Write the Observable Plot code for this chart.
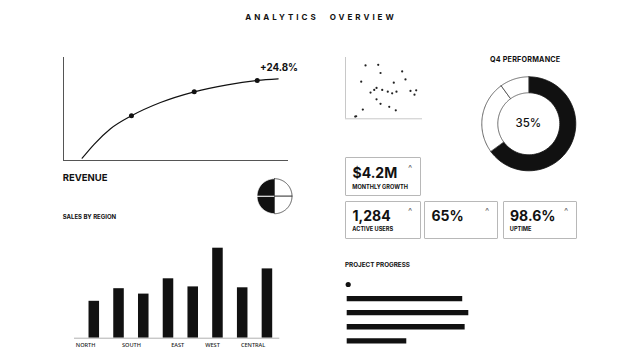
<!DOCTYPE html>
<html><head><meta charset="utf-8">
<script src="https://cdn.jsdelivr.net/npm/d3@7"></script>
<script src="https://cdn.jsdelivr.net/npm/@observablehq/plot@0.6"></script>
<style>
html,body{margin:0;padding:0;background:#fff;}
#wrap{position:relative;width:639px;height:360px;overflow:hidden;font-family:Inter,"Liberation Sans",sans-serif;color:#111;}
.t{position:absolute;white-space:nowrap;line-height:1;}
.card{position:absolute;border:1px solid #b8b8b8;border-radius:1px;box-sizing:border-box;}
</style></head>
<body><div id="wrap"></div>
<script>
// ---------- data ----------
const title = "ANALYTICS OVERVIEW";
const revenueLabel = "REVENUE";
const revenueChange = "+24.8%";
const revenueX = [8.3, 13.5, 20.9, 30.2, 43.1, 58.1, 72.8, 86.1, 95.4];
const revenueY = [2.2, 15.5, 30.8, 43.4, 56.3, 66.7, 73.5, 77.7, 79.3];
const revenueMarkIdx = [3, 5, 7];
const scatterX = [26,42.5,45.5,73.6,77.9,20.4,62.7,40.3,37.3,47.7,32.5,54.9,60.6,66.2,84.4,91.8,89.6,40.3,45.5,56.8,65.3,22.5,13.9,12.6];
const scatterY = [87,88,74.7,77.3,64.3,60.6,58.9,50.3,47.1,47.1,42.7,44.3,41.6,44.3,45.5,46.4,39.4,31.8,24.4,19.5,13.9,15.1,4.2,3.7];
const q4Title = "Q4 PERFORMANCE";
const q4Values = [65, 25, 10];
const q4Fills = ["#111", "#fff", "#fff"];
const q4Center = "35%";
const iconValues = [25, 25, 25, 25];
const iconFills = ["#fff", "#fff", "#111", "#111"];
const kpiValues = ["$4.2M", "1,284", "65%", "98.6%"];
const kpiLabels = ["MONTHLY GROWTH", "ACTIVE USERS", "", "UPTIME"];
const salesTitle = "SALES BY REGION";
const salesValues = [41, 55, 49, 66, 57, 100, 56, 77];
const regionLabels = ["NORTH", "SOUTH", "EAST", "WEST", "CENTRAL"];
const regionLabelPos = [0.15, 2.0, 3.87, 5.28, 6.92];
const progressTitle = "PROJECT PROGRESS";
const progressValues = [95, 100, 97, 49];

// ---------- helpers ----------
const W = 639, H = 360;
const wrap = document.getElementById("wrap");
function layer(opts) {
  const p = Plot.plot(Object.assign({width: W, height: H, style: {background: "transparent", overflow: "visible"}}, opts));
  p.style.position = "absolute"; p.style.left = "0px"; p.style.top = "0px";
  wrap.appendChild(p);
  return p;
}
function text(str, left, cy, size, weight, extra) {
  const d = document.createElement("div");
  d.className = "t";
  d.textContent = str;
  d.style.left = left + "px";
  d.style.top = (cy - size / 2) + "px";
  d.style.fontSize = size + "px";
  d.style.fontWeight = weight;
  if (extra) Object.assign(d.style, extra);
  wrap.appendChild(d);
  return d;
}
function box(l, t, w, h) {
  const d = document.createElement("div");
  d.className = "card";
  Object.assign(d.style, {left: l + "px", top: t + "px", width: w + "px", height: h + "px"});
  wrap.appendChild(d);
}
function slicePolys(values, rIn, rOut) {
  const arcs = d3.pie().sort(null)(values);
  return arcs.map(a => {
    const n = 60, pts = [];
    for (let k = 0; k <= n; k++) { const t = a.startAngle + (a.endAngle - a.startAngle) * k / n; pts.push([rOut * Math.sin(t), rOut * Math.cos(t)]); }
    if (rIn > 0) { for (let k = n; k >= 0; k--) { const t = a.startAngle + (a.endAngle - a.startAngle) * k / n; pts.push([rIn * Math.sin(t), rIn * Math.cos(t)]); } }
    else pts.push([0, 0]);
    pts.push(pts[0]);
    return pts;
  });
}

// ---------- title ----------
text(title, 0, 17.3, 8, 700, {width: W + "px", textAlign: "center", letterSpacing: "3px", wordSpacing: "6px", paddingLeft: "3px", boxSizing: "border-box"});

// ---------- revenue line ----------
const rev = revenueX.map((x, i) => ({x, y: revenueY[i]}));
layer({
  marginLeft: 63, marginRight: W - 288, marginTop: 57, marginBottom: H - 160,
  x: {domain: [0, 100], axis: null}, y: {domain: [0, 100], axis: null},
  marks: [
    Plot.ruleX([0], {stroke: "#555", strokeWidth: 1}),
    Plot.ruleY([0], {stroke: "#555", strokeWidth: 1}),
    Plot.line(rev, {x: "x", y: "y", curve: "monotone-x", stroke: "#111", strokeWidth: 1.2}),
    Plot.dot(revenueMarkIdx.map(i => rev[i]), {x: "x", y: "y", r: 2.5, fill: "#111", stroke: "none"})
  ]
});
text(revenueChange, 260, 67.7, 9.8, 700);
text(revenueLabel, 62.7, 177.3, 9.5, 700);

// ---------- scatter ----------
layer({
  marginLeft: 345, marginRight: W - 422, marginTop: 57, marginBottom: H - 118.3,
  x: {domain: [0, 100], axis: null}, y: {domain: [0, 100], axis: null},
  marks: [
    Plot.ruleX([0], {stroke: "#c8c8c8", strokeWidth: 1}),
    Plot.ruleY([0], {stroke: "#c8c8c8", strokeWidth: 1}),
    Plot.dot(scatterX.map((x, i) => ({x, y: scatterY[i]})), {x: "x", y: "y", r: 1.1, fill: "#222", stroke: "none"})
  ]
});

// ---------- Q4 donut ----------
const q4Polys = slicePolys(q4Values, 31, 47);
layer({
  marginLeft: 478.3, marginRight: W - 578.3, marginTop: 73.3, marginBottom: H - 173.3,
  x: {domain: [-50, 50], axis: null}, y: {domain: [-50, 50], axis: null},
  marks: q4Polys.map((poly, i) => Plot.line(poly, {x: d => d[0], y: d => d[1], fill: q4Fills[i], stroke: q4Fills[i] === "#111" ? "#111" : "#444", strokeWidth: 0.8}))
});
text(q4Title, 490, 59.7, 7.2, 700, {letterSpacing: "0.2px"});
text(q4Center, 0, 123.3, 11.5, 500, {left: "478.3px", width: "100px", textAlign: "center"});

// ---------- small pie icon ----------
const iconPolys = slicePolys(iconValues, 0, 17.5);
const iconOrder = d3.range(iconPolys.length).sort((a, b) => (iconFills[a] === "#111" ? 0 : 1) - (iconFills[b] === "#111" ? 0 : 1));
layer({
  marginLeft: 256.5, marginRight: W - 291.5, marginTop: 178.2, marginBottom: H - 213.2,
  x: {domain: [-17.5, 17.5], axis: null}, y: {domain: [-17.5, 17.5], axis: null},
  marks: iconOrder.map(i => Plot.line(iconPolys[i], {x: d => d[0], y: d => d[1], fill: iconFills[i], stroke: iconFills[i] === "#111" ? "#fff" : "#444", strokeWidth: 0.9}))
});

// ---------- KPI cards ----------
const cards = [
  {l: 345, t: 157, w: 76, h: 39, vy: 173.3, ly: 187.3, cy: 165.7},
  {l: 345, t: 201, w: 76, h: 38, vy: 216, ly: 230, cy: 208.3},
  {l: 424, t: 201, w: 74, h: 38, vy: 216, ly: 230, cy: 208.3},
  {l: 502.5, t: 201, w: 74.5, h: 38, vy: 216, ly: 230, cy: 208.3}
];
cards.forEach((c, i) => {
  box(c.l, c.t, c.w, c.h);
  text(kpiValues[i], c.l + 7.5, c.vy, 14, 700);
  if (kpiLabels[i]) text(kpiLabels[i], c.l + 7.3, c.ly, 5.6, 700);
  text("^", c.l + c.w - 13, c.cy + 1.8, 9, 400, {color: "#666"});
});

// ---------- sales by region ----------
text(salesTitle, 62.7, 216.7, 6, 700);
layer({
  marginLeft: 74, marginRight: W - 279.3, marginTop: 247.7, marginBottom: H - 337.7,
  x: {domain: [-0.3, 8], axis: null}, y: {domain: [0, 100], axis: null},
  marks: [
    Plot.rectY(salesValues, {x1: (d, i) => i, x2: (d, i) => i + 1, y1: 0, y2: d => d, fill: "#111", insetLeft: 7.1, insetRight: 7.1}),
    Plot.ruleY([0], {stroke: "#b0b0b0", strokeWidth: 1}),
    Plot.text(regionLabels, {x: (d, i) => regionLabelPos[i], y: 0, text: d => d, dy: 7, fontSize: 5.6, fontWeight: 500, fill: "#222"})
  ]
});

// ---------- project progress ----------
text(progressTitle, 345, 265, 6.3, 700);
layer({
  marginLeft: 346.7, marginRight: W - 468.3, marginTop: 284, marginBottom: H - 340.3,
  x: {domain: [0, 100], axis: null}, y: {domain: [4, 0], axis: null},
  marks: [
    Plot.dot([0], {x: 0, y: 0, r: 2.6, fill: "#111", stroke: "none", dx: 1}),
    Plot.ruleY(progressValues, {y: (d, i) => i + 1, x1: 0, x2: d => d, stroke: "#111", strokeWidth: 5.3})
  ]
});
</script></body></html>
